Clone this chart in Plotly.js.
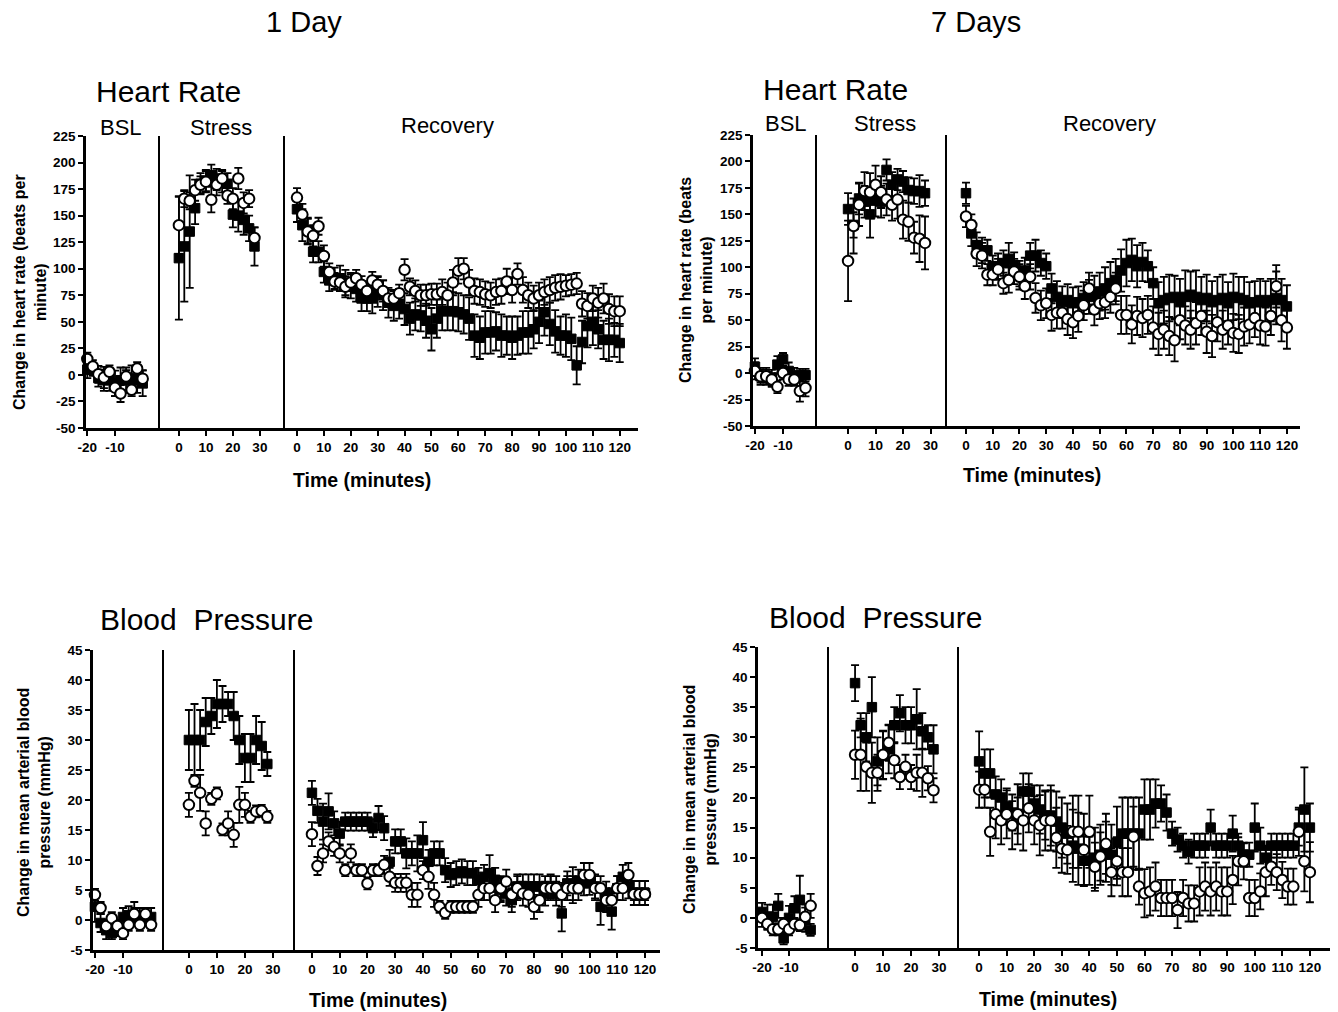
<!DOCTYPE html>
<html>
<head>
<meta charset="utf-8">
<script src="https://cdn.plot.ly/plotly-3.0.1.min.js"></script>
<style>html,body{margin:0;padding:0;background:#fff;}#chart{width:1338px;height:1012px;}</style>
</head>
<body>
<div id="chart"></div>
<script>
// ---------- x values ----------
const bslX1 = [-20,-18,-16,-14,-12,-10,-8,-6,-4,-2,0];
const bslX7 = [-20,-18,-16,-14,-12,-10,-8,-6,-4,-2];
const stressX = [0,2,4,6,8,10,12,14,16,18,20,22,24,26,28];
const recX = [0,2,4,6,8,10,12,14,16,18,20,22,24,26,28,30,32,34,36,38,40,42,44,46,48,50,52,54,56,58,60,62,64,66,68,70,72,74,76,78,80,82,84,86,88,90,92,94,96,98,100,102,104,106,108,110,112,114,116,118,120];

// ---------- tick labels ----------
const bslTicks = [-20,-10];
const bslTickText = ['-20','-10'];
const stressTicks = [0,10,20,30];
const recTicks = [0,10,20,30,40,50,60,70,80,90,100,110,120];
const hrTicks = [-50,-25,0,25,50,75,100,125,150,175,200,225];
const hrTickText = ['-50','-25','0','25','50','75','100','125','150','175','200','225'];
const bpTicks = [-5,0,5,10,15,20,25,30,35,40,45];
const bpTickText = ['-5','0','5','10','15','20','25','30','35','40','45'];

// ---------- 1 Day, heart rate ----------
const hr1BslSq  = [5,5,-3,-5,-5,-8,-5,-5,-3,-5,-8];
const hr1BslSqE = [8,6,8,10,10,12,12,12,12,12,12];
const hr1BslCi  = [15,8,0.6,-2.5,3,-12,-17.5,-1.5,-14,6,-3.5];
const hr1BslCiE = [6,6,8,10,6,8,8,6,6,6,8];
const hr1StSq  = [110,121,135,157,180,183,188,184,182,180,151,150,146,138,121];
const hr1StSqE = [58,52,53,15,10,10,10,10,10,10,12,15,14,12,18];
const hr1StCi  = [141,166,164,174,179,182,165,179,185,169,166,185,162,166,129];
const hr1StCiE = [27,8,8,10,8,10,12,10,8,8,10,10,10,8,10];
const hr1RecSq  = [156,141,136,116,116,97,89,91,91,87,84,81,72,72,72,78,75,68,65,67,62,53,57,56,51,43,53,60,60,60,59,57,53,37,35,40,40,41,37,37,35,37,40,40,43,50,59,48,41,37,37,34,9,31,46,50,43,33,33,33,30];
const hr1RecSqE = [12,15,12,10,10,10,10,10,12,12,12,12,12,12,14,14,14,14,14,14,15,15,15,15,16,20,18,18,18,18,18,18,20,20,20,20,20,18,20,18,20,18,20,20,18,20,22,20,20,18,20,20,18,20,20,22,18,18,20,16,18];
const hr1RecCi  = [167,151,135,131,140,112,97,88,87,83,87,91,85,79,89,85,79,72,72,77,99,83,79,75,75,76,76,78,75,87,98,100,87,79,78,76,75,78,79,88,80,95,80,75,72,75,78,80,82,83,84,85,86,67,65,72,68,72,62,60,60];
const hr1RecCiE = [9,10,12,10,8,10,8,8,8,10,8,8,8,8,8,8,10,8,8,8,10,8,10,10,10,10,10,12,12,12,12,10,12,12,12,12,12,12,12,12,12,10,12,12,12,12,12,12,12,12,10,10,10,12,12,12,14,14,14,14,14];

// ---------- 7 Days, heart rate ----------
const hr7BslSq  = [6,-3,-3,-5,8,13,2,-3,-2,-2];
const hr7BslSqE = [8,8,8,8,8,6,8,8,6,6];
const hr7BslCi  = [2,-3,-3,-6,-13,0,-6,-6,-17,-14];
const hr7BslCiE = [8,6,6,6,6,6,6,6,10,8];
const hr7StSq  = [155,140,165,162,150,163,162,192,178,183,181,173,172,172,170];
const hr7StSqE = [15,12,15,15,22,15,15,10,12,10,10,12,12,15,12];
const hr7StCi  = [106,139,159,172,171,178,171,164,159,164,145,143,128,127,123];
const hr7StCiE = [38,26,20,18,18,18,15,15,15,18,18,18,15,22,25];
const hr7RecSq  = [170,132,121,116,116,101,101,104,108,102,94,97,111,111,104,101,80,72,67,69,66,67,71,72,74,77,80,85,88,97,104,107,101,105,101,85,66,69,71,72,67,72,74,72,69,71,67,69,71,66,72,71,69,66,67,69,67,69,71,69,63];
const hr7RecSqE = [10,12,12,12,10,10,12,12,15,12,12,12,12,15,12,12,14,15,15,15,15,15,15,16,18,18,20,20,20,20,22,20,20,18,15,15,20,22,22,20,22,25,22,25,22,22,20,22,22,20,22,20,22,20,20,20,20,20,25,20,20];
const hr7RecCi  = [148,140,113,111,93,93,98,85,88,96,91,82,91,71,64,66,55,57,57,51,48,54,64,80,60,66,67,72,80,55,55,46,54,52,55,43,37,41,35,31,50,45,41,47,54,39,35,48,41,45,38,37,44,46,52,45,44,54,82,50,43];
const hr7RecCiE = [10,10,12,12,10,10,10,10,12,12,12,12,12,14,14,14,15,15,15,15,15,15,14,15,15,15,15,15,15,18,18,18,18,18,18,20,20,18,18,20,18,18,18,20,18,20,20,18,18,18,18,18,18,18,18,18,18,18,20,20,20];

// ---------- 1 Day, blood pressure ----------
const bp1BslSq  = [2.2,-0.5,-1.7,-2.2,-1.7,0.5,0.8,0.5,0.5,0.5,0.5];
const bp1BslSqE = [2.5,1.5,1.5,1,1,1.5,1.5,1.5,1.5,1.5,1.5];
const bp1BslCi  = [4.2,2,-1,0.3,-1,-2.2,-0.8,1,-0.8,1,-0.8];
const bp1BslCiE = [1,1,1,1,1,1,1,2,1,1,1];
const bp1StSq  = [30,30,30,33,34,36,36,36,34,30,27,27,30,29,26];
const bp1StSqE = [5,6,5,4,3,4,3,2,4,4,4,4,4,4,2];
const bp1StCi  = [19.2,23.2,21.2,16.1,20.2,21.1,15.1,16.1,14.2,19.2,19.2,17.2,18.1,18.2,17.2];
const bp1StCiE = [2,1,3,2,1,1,1,2,2,3,2,1,1,1,1];
const bp1RecSq  = [21.2,18.2,16.4,18.1,16.1,14.4,16.4,16.4,16.4,16.4,16.4,15.3,17,15.3,9.7,13.1,13.1,11.1,11.1,11.1,13.3,9.7,11.1,11.1,8.3,7.5,7.8,8.1,7.8,7.8,6.7,7.2,7.8,6.7,5,4.4,3.3,5.6,5.6,5.6,5.6,5.6,4.4,5.6,4.4,1.1,6.1,5.8,6.4,6.1,6.2,5.6,2.2,4.4,1.4,5.3,7.2,5.6,4.5,4.5,4.5];
const bp1RecSqE = [2,2,3,3,2,2,1.5,1.5,1.5,1.5,1.5,1.5,2,2,2,2,2,2.5,2,3,3,2,2,2,2,2,2,2,2,2,2,2,3,2,2,2,2,2,2,2,2,2,2,2,2,3,2,3,2,2,2,2,3,2,3,2,2,2,2,2,2];
const bp1RecCi  = [14.3,9,11.1,13.1,12.2,11.1,8.3,11.1,8.3,8.3,6.1,8.3,8.3,9.2,7.2,6.2,6.2,6.2,4.2,4.2,8.3,7.2,4.2,2.2,1.2,2.2,2.2,2.2,2.2,2.2,4.2,5.3,5.3,3.3,5.3,6.4,4.2,5.3,4.4,4.2,2.2,3.3,5.3,5.3,5.3,4.2,5.3,5.3,5.3,7.5,7.5,5.3,5.3,3.3,3.3,5.3,5.3,7.5,4.3,4.3,4.3];
const bp1RecCiE = [2,1.5,1.5,1.5,1.5,1.5,1,1.5,1,1,1,1,1,1.5,1.5,1.5,1.5,1.5,2,2,1.5,2,2,1,1,1,1,1,1,1,2,2,2,2,2,2,2,2,2,2,2,2,2,2,2,2,2,2,2,2,2,2,2,2,2,2,2,2,1,1,1];

// ---------- 7 Days, blood pressure ----------
const bp7BslSq  = [1,0.2,0.2,2,-3.4,0,1.6,3,-0.3,-2];
const bp7BslSqE = [1.5,2,2,2,1,2,2,4,2,1];
const bp7BslCi  = [0,-1,-1.9,-1.9,-1,-1.9,-1,-1.2,0.2,2];
const bp7BslCiE = [1.5,1,1,1,1,1,1,1,2,2];
const bp7StSq  = [39,32,30,35,26,27,28,32,34,32,32,33,31,30,28];
const bp7StSqE = [3,2,4,5,4,4,4,3,3,3,3,5,3,2,4];
const bp7StCi  = [27.1,27.1,25.1,24.1,24.1,27.1,29.1,26.2,23.4,25.1,23.4,24.1,24.1,23.2,21.2];
const bp7StCiE = [4,6,4,5,3,4,3,3,2,2,2,3,4,2,2];
const bp7RecSq  = [26,24,24,20.5,20,18.5,17.5,17,21,21,19,18,17,17,16,15,14,12,11.5,9.5,9.5,10,10.5,11,10.5,12.5,14,14,14,14,18,18,19,19,17.5,14,13,12,11,12,12,12,15,12,12,12,14,12,10.5,10.5,15,12,10,12,12,12,12,12,15,18,15];
const bp7RecSqE = [5,4,4,3,3,3,3,3,3,3,3,4,4,5,5,5,5,6,6,4,4,5,5,5,5,6,6,6,6,6,5,5,4,3,3,2,2,2,2,2,2,2,3,2,2,2,3,2,2,2,4,3,2,2,2,2,2,2,3,7,4];
const bp7RecCi  = [21.3,21.3,14.3,17.2,16.2,17.2,15.4,17.2,16.2,18.2,16.2,15.4,16.2,16.2,13.3,11.5,11.3,14.3,14.3,11.3,14.3,8.5,10.2,12.3,7.6,9.4,7.6,7.6,13.5,5.2,4.1,4.4,5.2,3.3,3.3,3.3,1.3,3.3,2.4,2.4,4.4,5.2,4.4,5.2,4.4,4.4,6.3,9.4,9.4,3.3,3.3,4.4,7.6,8.5,7.6,6.3,5.2,5.2,14.3,9.4,7.6];
const bp7RecCiE = [3,3,4,4,4,4,4,5,5,4,4,5,5,5,5,4,4,6,6,6,6,4,4,5,4,4,4,4,5,3,4,4,4,3,3,3,3,3,3,3,4,4,4,4,4,4,4,4,3,3,3,3,4,3,3,3,3,3,4,5,5];

// ---------- layout helpers ----------
const W = 1338, H = 1012;
const FONT = 'Liberation Sans, Arial, sans-serif';
const px = v => v / W;
const py = v => 1 - v / H;

const panels = [
  { y: [136, 428], yr: [-50, 225], yt: hrTicks, ytt: hrTickText,
    subs: [
      { xd: [86, 160], xr: [-20.47, 6.25], tv: bslTicks, tt: bslTickText, x: bslX1, s: hr1BslSq, se: hr1BslSqE, c: hr1BslCi, ce: hr1BslCiE },
      { xd: [160, 285], xr: [-7.0, 39.3], tv: stressTicks, x: stressX, s: hr1StSq, se: hr1StSqE, c: hr1StCi, ce: hr1StCiE },
      { xd: [285, 638], xr: [-4.46, 126.8], tv: recTicks, x: recX, s: hr1RecSq, se: hr1RecSqE, c: hr1RecCi, ce: hr1RecCiE }
    ] },
  { y: [135, 426], yr: [-50, 225], yt: hrTicks, ytt: hrTickText,
    subs: [
      { xd: [753, 817], xr: [-20.7, 2.1], tv: bslTicks, tt: bslTickText, x: bslX7, s: hr7BslSq, se: hr7BslSqE, c: hr7BslCi, ce: hr7BslCiE },
      { xd: [817, 947], xr: [-11.3, 36.0], tv: stressTicks, x: stressX, s: hr7StSq, se: hr7StSqE, c: hr7StCi, ce: hr7StCiE },
      { xd: [947, 1300], xr: [-7.1, 124.9], tv: recTicks, x: recX, s: hr7RecSq, se: hr7RecSqE, c: hr7RecCi, ce: hr7RecCiE }
    ] },
  { y: [650, 950], yr: [-5, 45], yt: bpTicks, ytt: bpTickText,
    subs: [
      { xd: [93, 164], xr: [-20.7, 4.6], tv: bslTicks, tt: bslTickText, x: bslX1, s: bp1BslSq, se: bp1BslSqE, c: bp1BslCi, ce: bp1BslCiE },
      { xd: [164, 295], xr: [-8.9, 37.9], tv: stressTicks, x: stressX, s: bp1StSq, se: bp1StSqE, c: bp1StCi, ce: bp1StCiE },
      { xd: [295, 660], xr: [-6.1, 125.4], tv: recTicks, x: recX, s: bp1RecSq, se: bp1RecSqE, c: bp1RecCi, ce: bp1RecCiE }
    ] },
  { y: [647, 948], yr: [-5, 45], yt: bpTicks, ytt: bpTickText,
    subs: [
      { xd: [758, 829], xr: [-21.5, 4.8], tv: bslTicks, tt: bslTickText, x: bslX7, s: bp7BslSq, se: bp7BslSqE, c: bp7BslCi, ce: bp7BslCiE },
      { xd: [829, 959], xr: [-9.3, 37.1], tv: stressTicks, x: stressX, s: bp7StSq, se: bp7StSqE, c: bp7StCi, ce: bp7StCiE },
      { xd: [959, 1330], xr: [-7.3, 127.3], tv: recTicks, x: recX, s: bp7RecSq, se: bp7RecSqE, c: bp7RecCi, ce: bp7RecCiE }
    ] }
];

const tickfont = { family: FONT, size: 13.5, color: '#000', weight: 'bold' };
const layout = {
  width: W, height: H,
  margin: { l: 0, r: 0, t: 0, b: 0 },
  paper_bgcolor: '#fff', plot_bgcolor: 'rgba(0,0,0,0)',
  showlegend: false,
  annotations: [], shapes: []
};
const traces = [];

let k = 0;
panels.forEach(p => {
  p.subs.forEach((s, si) => {
    k++;
    const xn = 'xaxis' + (k === 1 ? '' : k), yn = 'yaxis' + (k === 1 ? '' : k);
    const xid = 'x' + (k === 1 ? '' : k), yid = 'y' + (k === 1 ? '' : k);
    layout[xn] = {
      domain: [px(s.xd[0]), px(s.xd[1])], range: s.xr, anchor: yid,
      tickmode: 'array', tickvals: s.tv, ticktext: s.tt || s.tv.map(String),
      showline: true, linecolor: '#000', linewidth: 2.6,
      ticks: 'outside', ticklen: 5, tickwidth: 2, tickcolor: '#000',
      tickfont: tickfont, showgrid: false, zeroline: false, fixedrange: true
    };
    layout[yn] = {
      domain: [py(p.y[1]), py(p.y[0])], range: p.yr, anchor: xid,
      showline: true, linecolor: '#000', linewidth: si === 0 ? 2.8 : 1.8,
      showgrid: false, zeroline: false, fixedrange: true,
      tickmode: 'array', tickvals: p.yt, ticktext: p.ytt,
      ticks: si === 0 ? 'outside' : '', ticklen: 5, tickwidth: 2, tickcolor: '#000',
      showticklabels: si === 0, tickfont: tickfont
    };
    traces.push({
      type: 'scatter', mode: 'markers', x: s.x, y: s.s, xaxis: xid, yaxis: yid,
      marker: { symbol: 'square', size: 9.5, color: '#000', line: { color: '#000', width: 1 } },
      error_y: { type: 'data', array: s.se, visible: true, color: '#000', thickness: 1.8, width: 4 },
      cliponaxis: false, hoverinfo: 'skip'
    });
    traces.push({
      type: 'scatter', mode: 'markers', x: s.x, y: s.c, xaxis: xid, yaxis: yid,
      marker: { symbol: 'circle', size: 10.5, color: '#fff', line: { color: '#000', width: 2 } },
      error_y: { type: 'data', array: s.ce, visible: true, color: '#000', thickness: 1.8, width: 4 },
      cliponaxis: false, hoverinfo: 'skip'
    });
  });
});

function ann(text, x, y, size, opts) {
  layout.annotations.push(Object.assign({
    text: text, x: px(x), y: py(y), xref: 'paper', yref: 'paper',
    showarrow: false, xanchor: 'center', yanchor: 'middle',
    font: { family: FONT, size: size, color: '#000' }
  }, opts || {}));
}
// column titles
ann('1 Day', 304, 22, 29);
ann('7 Days', 976, 22, 29);
// panel titles
ann('Heart Rate', 94, 91, 30, { xanchor: 'left' });
ann('Heart Rate', 761, 89, 30, { xanchor: 'left' });
ann('Blood\u00a0\u00a0Pressure', 98, 619, 30, { xanchor: 'left' });
ann('Blood\u00a0\u00a0Pressure', 767, 617, 30, { xanchor: 'left' });
// phase labels
ann('BSL', 121, 127, 22);
ann('Stress', 221, 127, 22);
ann('Recovery', 447, 126, 22);
ann('BSL', 786, 124, 22);
ann('Stress', 885, 124, 22);
ann('Recovery', 1109, 124, 22);
// x titles
const bold = s => ({ font: { family: FONT, size: s, color: '#000', weight: 'bold' } });
ann('Time (minutes)', 362, 480, 19.5, bold(19.5));
ann('Time (minutes)', 1032, 475, 19.5, bold(19.5));
ann('Time (minutes)', 378, 1000, 19.5, bold(19.5));
ann('Time (minutes)', 1048, 999, 19.5, bold(19.5));
// y titles
const yt = Object.assign({ textangle: -90 }, bold(16));
ann('Change in heart rate (beats per<br>minute)', 30, 292, 16, yt);
ann('Change in heart rate (beats<br>per minute)', 696, 280, 16, yt);
ann('Change in mean arterial blood<br>pressure (mmHg)', 34, 803, 16, yt);
ann('Change in mean arterial blood<br>pressure (mmHg)', 700, 800, 16, yt);

Plotly.newPlot('chart', traces, layout, { staticPlot: true, displayModeBar: false });
</script>
</body>
</html>
